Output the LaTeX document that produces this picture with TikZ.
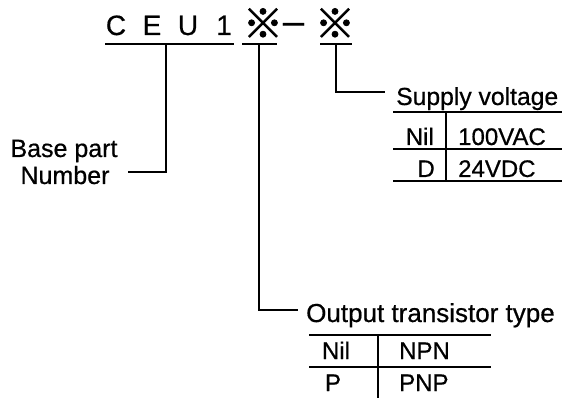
\documentclass[tikz,border=0pt]{standalone}
\usepackage{fontspec}
\setmainfont{Liberation Sans}
\newfontfamily\lblfont[FakeBold=0.6]{Liberation Sans}
\newfontfamily\cjk[FakeBold=2]{Noto Sans CJK JP}
\begin{document}
\begin{tikzpicture}[x=1pt,y=-1pt]
\tikzset{
  lbl/.style={font=\lblfont\fontsize{24}{24}\selectfont, inner sep=0pt},
  biglbl/.style={font=\lblfont\fontsize{26}{26}\selectfont, inner sep=0pt},
  ttl/.style={font=\lblfont\fontsize{28}{28}\selectfont, inner sep=0pt, anchor=base},
  refmk/.style={font=\cjk\fontsize{40}{40}\selectfont, inner sep=0pt, anchor=base},
  rulel/.style={line width=1.4pt},
  conn/.style={line width=1.4pt},
}
\useasboundingbox (0,0) rectangle (562,398);
% title
\node[ttl] (c) at (116,35) {C};
\node[ttl] (e) at (152,35) {E};
\node[ttl] (u) at (188,35) {U};
\node[ttl] (one) at (224,35) {1};
\node[refmk] (m1) at (263,38) {※};
\node[font=\lblfont\fontsize{38}{38}\selectfont, inner sep=0pt, anchor=base] (dash) at (293.5,34) {–};
\node[refmk] (m2) at (335,38) {※};
% underlines
\coordinate (u1a) at (105,44); \coordinate (u1b) at (234,44);
\coordinate (u2a) at (242,44); \coordinate (u2b) at (277,44);
\coordinate (u3a) at (320,44); \coordinate (u3b) at (352,44);
\draw[rulel] (u1a) -- (u1b);
\draw[rulel] (u2a) -- (u2b);
\draw[rulel] (u3a) -- (u3b);
% base part
\coordinate (t1) at (166,44); \coordinate (e1) at (128,172);
\draw[conn] (t1) |- (e1);
\node[lbl, font=\lblfont\fontsize{25}{25}\selectfont, anchor=base] (base1) at (64,157) {Base part};
\node[lbl, font=\lblfont\fontsize{25}{25}\selectfont, anchor=base] (base2) at (65,184) {Number};
% supply voltage
\coordinate (t3) at (336,44); \coordinate (e3) at (385,92);
\draw[conn] (t3) |- (e3);
\node[lbl, font=\lblfont\fontsize{24.7}{25}\selectfont, anchor=base west] (sv) at (396,105) {Supply voltage};
\coordinate (s1a) at (393,112); \coordinate (s1b) at (562,112);
\coordinate (s2a) at (393,149); \coordinate (s2b) at (562,149);
\coordinate (s3a) at (393,181); \coordinate (s3b) at (562,181);
\coordinate (svt) at (446,112); \coordinate (svb) at (446,181);
\draw[rulel] (s1a) -- (s1b);
\draw[rulel] (s2a) -- (s2b);
\draw[rulel] (s3a) -- (s3b);
\draw[rulel] (svt) -- (svb);
\node[lbl, anchor=base east] (snil) at (434,145) {Nil};
\node[lbl, anchor=base west] (sac) at (458,145) {100VAC};
\node[lbl, anchor=base east] (sd) at (435,177) {D};
\node[lbl, anchor=base west] (sdc) at (458,177) {24VDC};
% output transistor
\coordinate (t2) at (259,44); \coordinate (e2) at (298,310);
\draw[conn] (t2) |- (e2);
\node[biglbl, anchor=base west] (ot) at (306,322) {Output transistor type};
\coordinate (o1a) at (309,335); \coordinate (o1b) at (491,335);
\coordinate (o2a) at (309,367); \coordinate (o2b) at (491,367);
\coordinate (ovt) at (378,335); \coordinate (ovb) at (378,398);
\draw[rulel] (o1a) -- (o1b);
\draw[rulel] (o2a) -- (o2b);
\draw[rulel] (ovt) -- (ovb);
\node[lbl, anchor=base] (onil) at (336,359) {Nil};
\node[lbl, anchor=base west] (onpn) at (399,359) {NPN};
\node[lbl, anchor=base] (op) at (333,391) {P};
\node[lbl, anchor=base west] (opnp) at (399,391) {PNP};
\end{tikzpicture}
\end{document}
